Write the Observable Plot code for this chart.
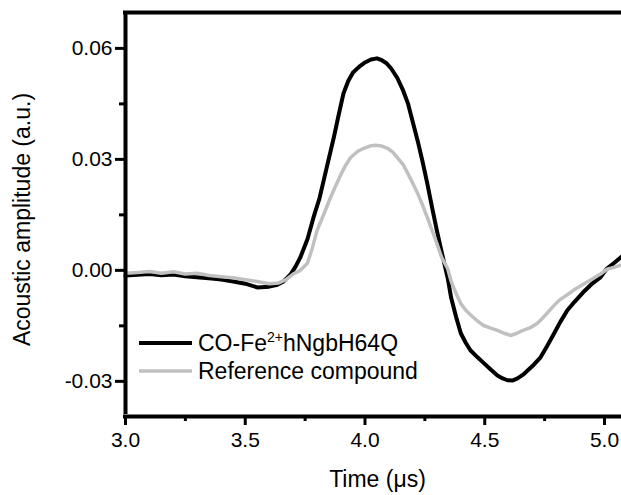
<!DOCTYPE html>
<html><head><meta charset="utf-8">
<script src="https://cdn.jsdelivr.net/npm/d3@7"></script>
<script src="https://cdn.jsdelivr.net/npm/@observablehq/plot@0.6"></script>
<style>
body{margin:0;background:#fff;overflow:hidden}
#wrap{position:relative;width:621px;height:495px}
.legend{position:absolute;left:139px;top:329px;font-family:"Liberation Sans",Arial,sans-serif;font-size:23px;color:#000}
.row{display:flex;align-items:center;height:28px;white-space:nowrap}
.row svg{margin-right:6px}
sup{font-size:14px;line-height:0;vertical-align:9px}
</style>
</head><body><div id="wrap"></div>
<script>
const seriesNames = ["CO-Fe2+hNgbH64Q", "Reference compound"];
const xDomain = [3.0, 5.071];
const yDomain = [-0.0395, 0.0697];
const xMajor = [3.0, 3.5, 4.0, 4.5, 5.0];
const xMinor = [3.25, 3.75, 4.25, 4.75];
const yMajor = [-0.03, 0.00, 0.03, 0.06];
const yMinor = [-0.015, 0.015, 0.045];

const blackT = [3.00,3.05,3.10,3.15,3.20,3.25,3.31,3.36,3.40,3.45,3.50,3.55,3.60,3.63,3.66,3.69,3.71,3.73,3.76,3.785,3.81,3.83,3.85,3.87,3.89,3.91,3.93,3.95,3.975,4.00,4.025,4.05,4.07,4.09,4.11,4.135,4.16,4.18,4.20,4.22,4.24,4.26,4.28,4.30,4.32,4.345,4.36,4.38,4.40,4.42,4.44,4.47,4.495,4.525,4.553,4.575,4.595,4.615,4.637,4.66,4.68,4.705,4.733,4.76,4.79,4.815,4.845,4.875,4.91,4.95,4.983,5.01,5.04,5.071];
const blackV = [-0.0014,-0.0012,-0.0010,-0.0013,-0.0011,-0.0016,-0.0019,-0.0022,-0.0025,-0.0030,-0.0036,-0.0046,-0.0044,-0.0040,-0.0030,-0.0010,0.0010,0.0035,0.0085,0.0143,0.0195,0.0250,0.0305,0.0360,0.0420,0.0478,0.0512,0.0535,0.0550,0.0562,0.0570,0.0573,0.0568,0.0560,0.0545,0.0520,0.0485,0.0450,0.0400,0.0350,0.0295,0.0235,0.0170,0.0108,0.0050,-0.0020,-0.0075,-0.0125,-0.0170,-0.0195,-0.0216,-0.0235,-0.0250,-0.0268,-0.0284,-0.0292,-0.0297,-0.0298,-0.0292,-0.0282,-0.0270,-0.0255,-0.0235,-0.0205,-0.0170,-0.0140,-0.0108,-0.0085,-0.0060,-0.0035,-0.0019,0.0005,0.0020,0.0037];

const grayT = [3.00,3.05,3.10,3.15,3.20,3.25,3.30,3.35,3.40,3.45,3.50,3.55,3.60,3.64,3.67,3.70,3.73,3.76,3.78,3.80,3.83,3.856,3.88,3.90,3.92,3.94,3.97,3.995,4.02,4.044,4.07,4.094,4.115,4.135,4.16,4.18,4.20,4.22,4.24,4.26,4.28,4.30,4.32,4.345,4.36,4.38,4.40,4.42,4.44,4.47,4.495,4.525,4.553,4.58,4.61,4.635,4.66,4.69,4.72,4.74,4.76,4.785,4.81,4.84,4.87,4.905,4.94,4.983,5.01,5.04,5.071];
const grayV = [-0.0008,-0.0006,-0.0003,-0.0008,-0.0004,-0.0010,-0.0008,-0.0014,-0.0017,-0.0020,-0.0025,-0.0030,-0.0036,-0.0034,-0.0025,-0.0010,0.0000,0.0020,0.0060,0.0108,0.0155,0.0197,0.0232,0.0260,0.0285,0.0305,0.0322,0.0330,0.0336,0.0338,0.0336,0.0330,0.0320,0.0305,0.0285,0.0260,0.0235,0.0208,0.0177,0.0143,0.0108,0.0073,0.0035,0.0005,-0.0030,-0.0062,-0.0090,-0.0107,-0.0120,-0.0137,-0.0149,-0.0156,-0.0162,-0.0170,-0.0176,-0.0170,-0.0162,-0.0155,-0.0143,-0.0130,-0.0116,-0.0098,-0.0081,-0.0068,-0.0054,-0.0040,-0.0027,-0.0010,0.0003,0.0008,0.0015];

const black = blackT.map((t, i) => ({t, v: blackV[i]}));
const gray = grayT.map((t, i) => ({t, v: grayV[i]}));
const GRAY = "#c0c0c0";

const chart = Plot.plot({
  width: 621, height: 495,
  marginLeft: 125, marginRight: 0, marginTop: 12, marginBottom: 79,
  x: {domain: xDomain},
  y: {domain: yDomain},
  style: {fontFamily: '"Liberation Sans", Arial, sans-serif', fontSize: "21px", color: "#000", background: "#fff", overflow: "visible"},
  marks: [
    Plot.line(black, {x: "t", y: "v", stroke: "#000", strokeWidth: 4, strokeLinejoin: "round"}),
    Plot.line(gray, {x: "t", y: "v", stroke: GRAY, strokeWidth: 3.5, strokeLinejoin: "round"}),
    Plot.axisY({ticks: yMajor, tickSize: 10, tickPadding: 3, tickFormat: d => d.toFixed(2), strokeWidth: 3, label: null, fontSize: 21}),
    Plot.axisY({ticks: yMinor, tickSize: 6, tickFormat: () => "", strokeWidth: 3, label: null}),
    Plot.axisX({ticks: xMajor, tickSize: 9, tickPadding: 7, tickFormat: d => d.toFixed(1), strokeWidth: 3, label: null, fontSize: 21}),
    Plot.axisX({ticks: xMinor, tickSize: 5, tickFormat: () => "", strokeWidth: 3, label: null}),
    Plot.ruleX([xDomain[0]], {stroke: "#000", strokeWidth: 4, y1: yDomain[0], y2: yDomain[1], insetTop: -2, insetBottom: -2}),
    Plot.ruleY([yDomain[0], yDomain[1]], {stroke: "#000", strokeWidth: 4, x1: xDomain[0], x2: xDomain[1], insetLeft: -2}),
    Plot.text(["Acoustic amplitude (a.u.)"], {frameAnchor: "left", dx: -103, dy: 5, rotate: -90, fontSize: 23, textAnchor: "middle", lineAnchor: "middle"}),
    Plot.text(["Time (\u03bcs)"], {frameAnchor: "bottom", dx: 4, dy: 63, fontSize: 23, lineAnchor: "middle"})
  ]
});

const wrap = document.getElementById("wrap");
wrap.appendChild(chart);
const legend = document.createElement("div");
legend.className = "legend";
legend.innerHTML =
  `<div class="row"><svg width="53" height="6"><line x1="0" y1="3" x2="53" y2="3" stroke="#000" stroke-width="4"/></svg><span>CO-Fe<sup>2+</sup>hNgbH64Q</span></div>` +
  `<div class="row"><svg width="53" height="6"><line x1="0" y1="3" x2="53" y2="3" stroke="${GRAY}" stroke-width="3.5"/></svg><span>Reference compound</span></div>`;
wrap.appendChild(legend);
</script>
</body></html>
